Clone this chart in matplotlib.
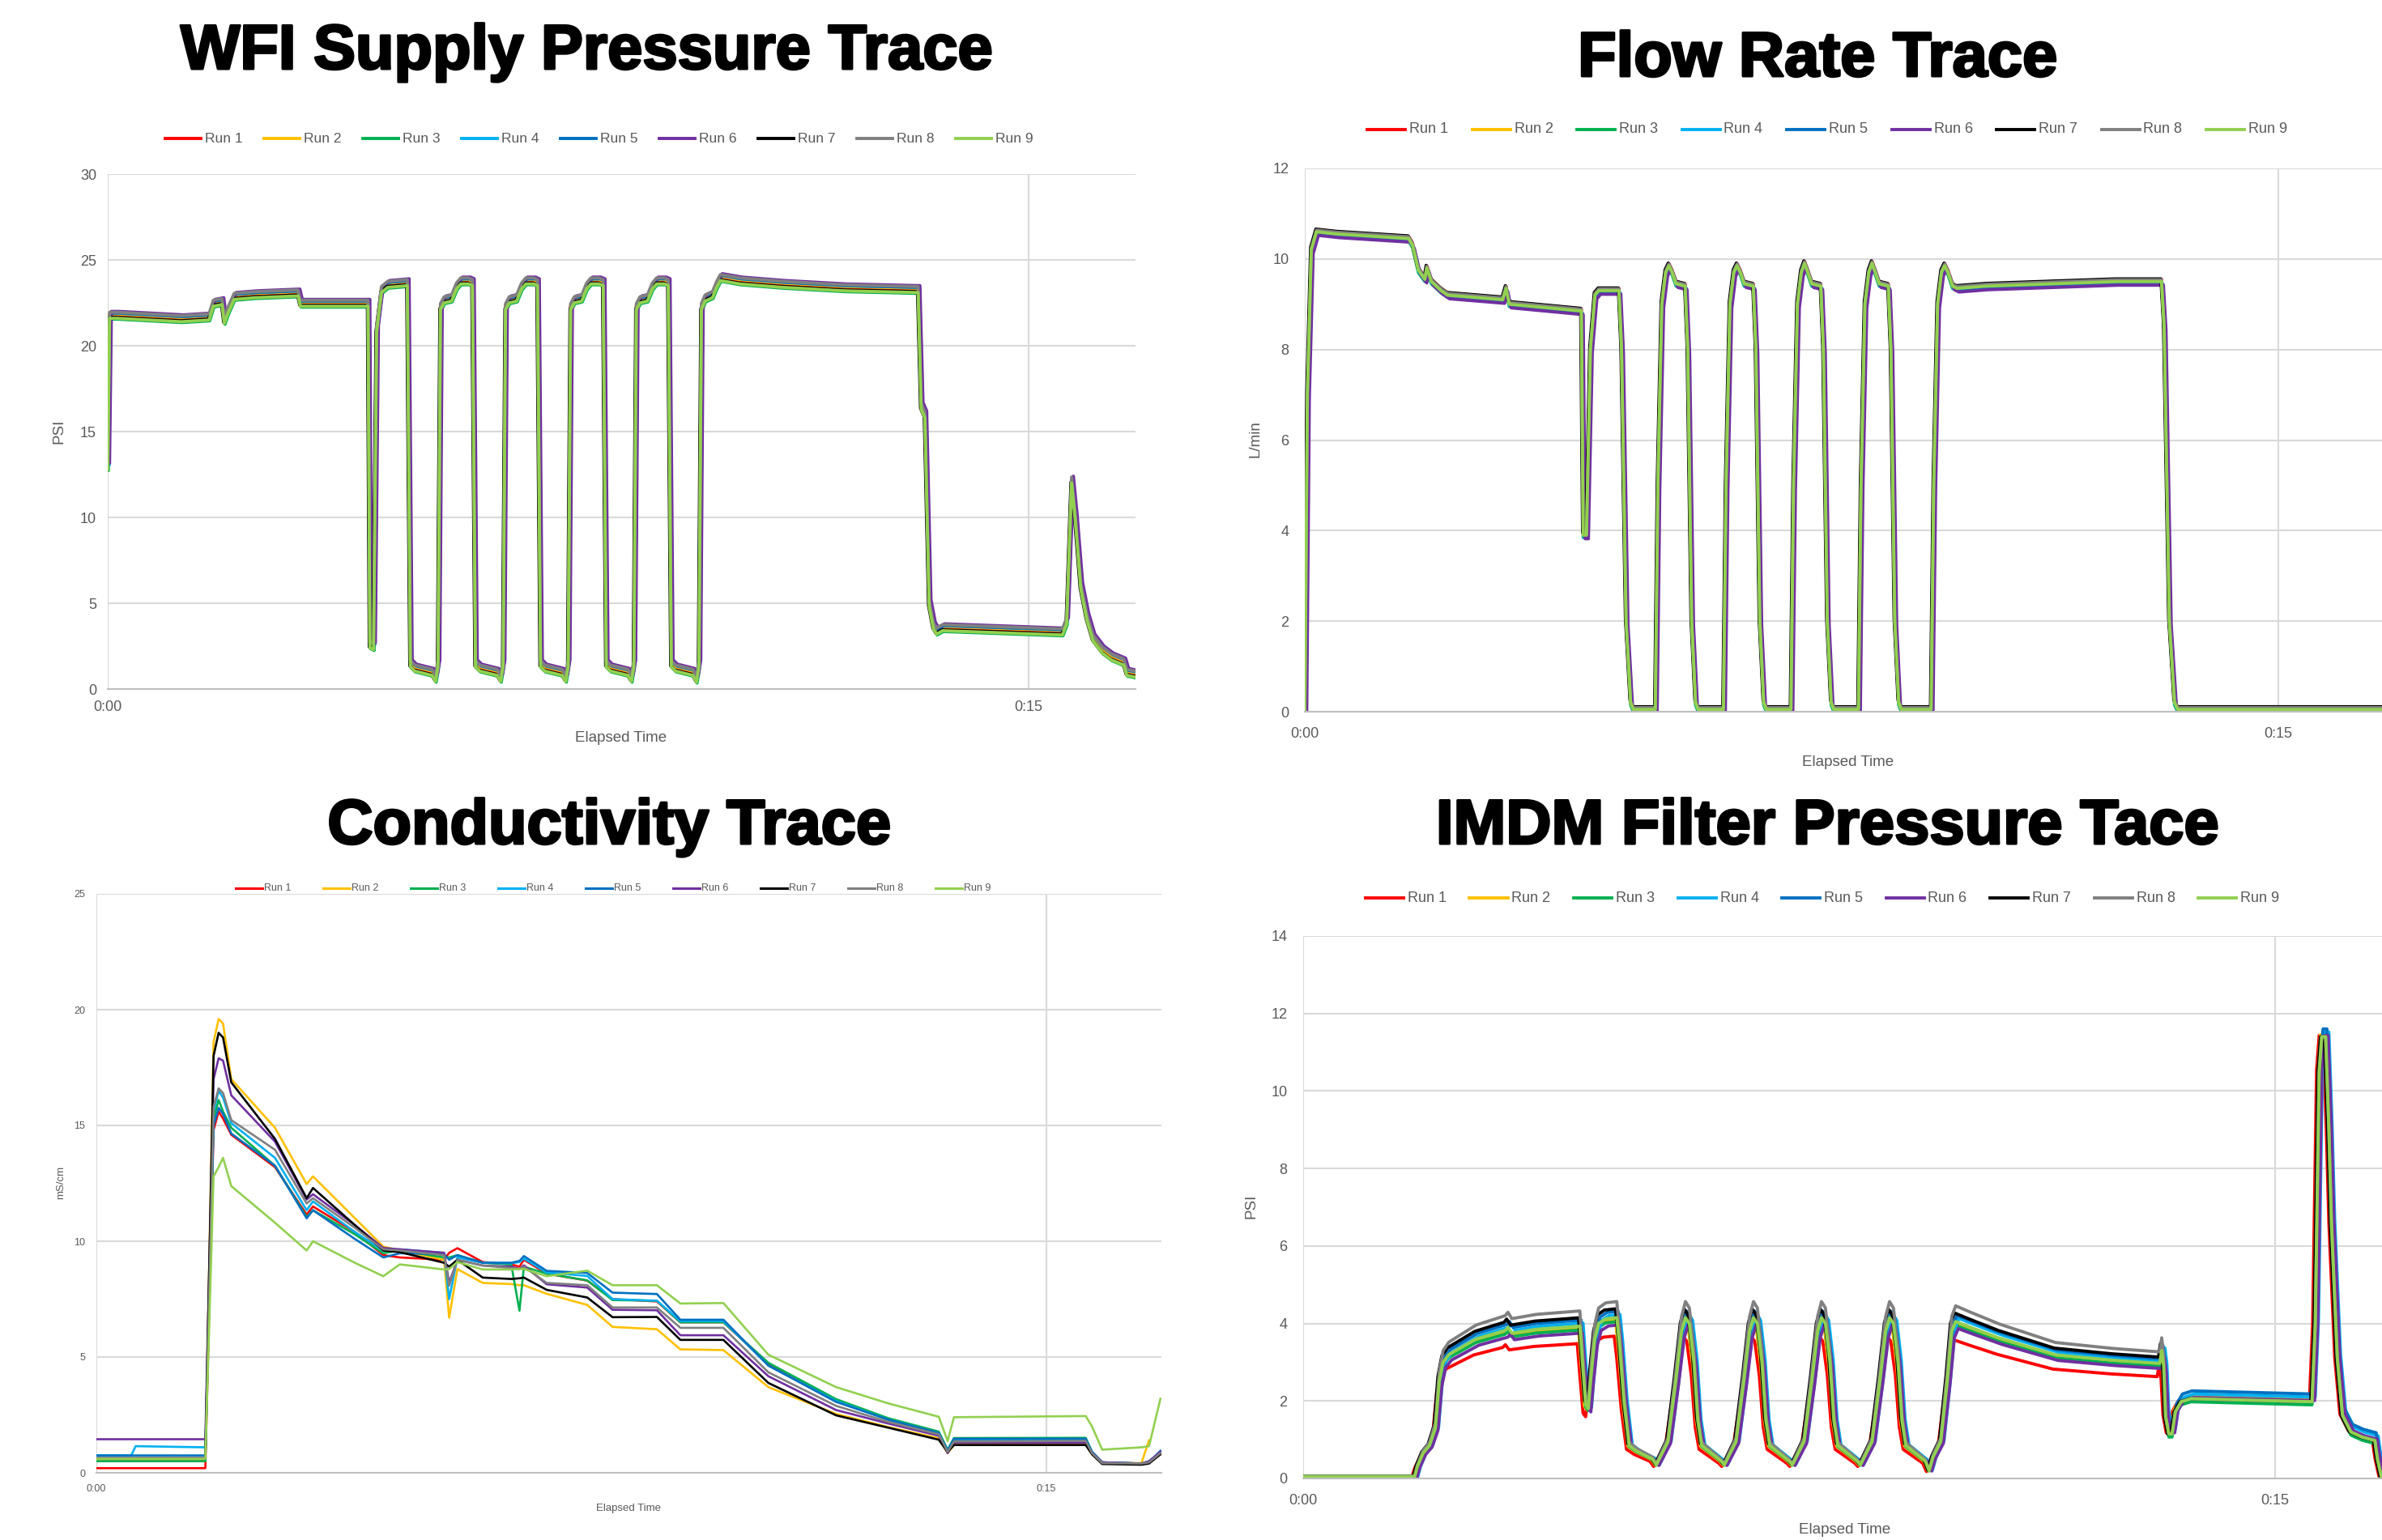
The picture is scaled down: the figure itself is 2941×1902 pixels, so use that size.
import numpy as np
import matplotlib
matplotlib.use('Agg')
import matplotlib.pyplot as plt
import matplotlib.patheffects as pe
from matplotlib.lines import Line2D

# ---- series names / colours (Excel default palette) ----
runs = ['Run 1', 'Run 2', 'Run 3', 'Run 4', 'Run 5', 'Run 6', 'Run 7', 'Run 8', 'Run 9']
run_colors = ['#FF0000', '#FFC000', '#00B050', '#00B0F0', '#0070C0',
              '#7030A0', '#000000', '#808080', '#92D050']

# ---- WFI supply pressure (psi), elapsed minutes ----
wfi_time = [0.00, 0.03, 0.15, 1.20, 1.65, 1.72, 1.86, 1.90, 1.96, 2.06, 2.40, 3.10, 3.14, 4.24,
            4.27, 4.33, 4.38, 4.46, 4.56,
            4.88, 4.93, 5.00, 5.28, 5.34, 5.38, 5.42, 5.48, 5.60, 5.68, 5.75, 5.88,
            5.94, 5.99, 6.06, 6.34, 6.40, 6.44, 6.48, 6.54, 6.66, 6.74, 6.81, 6.94,
            7.00, 7.05, 7.12, 7.40, 7.46, 7.50, 7.54, 7.60, 7.72, 7.80, 7.87, 8.00,
            8.07, 8.12, 8.19, 8.47, 8.53, 8.57, 8.61, 8.67, 8.79, 8.87, 8.94, 9.07,
            9.13, 9.18, 9.25, 9.53, 9.59, 9.63, 9.67, 9.73, 9.85, 9.92, 9.98, 10.30,
            11.00, 12.00, 13.20, 13.25, 13.31, 13.38, 13.45, 13.50, 13.60, 15.55, 15.62,
            15.70, 15.76, 15.85, 15.95, 16.05, 16.20, 16.35, 16.55, 16.60, 16.73]
wfi_psi = [13.0, 21.8, 21.8, 21.6, 21.7, 22.5, 22.6, 21.5, 22.1, 22.9, 23.0, 23.1, 22.5, 22.5,
           2.6, 2.5, 21.0, 23.3, 23.6,
           23.7, 1.5, 1.25, 1.0, 0.65, 1.5, 22.3, 22.7, 22.8, 23.5, 23.8, 23.8,
           23.7, 1.5, 1.25, 1.0, 0.65, 1.5, 22.3, 22.7, 22.8, 23.5, 23.8, 23.8,
           23.7, 1.5, 1.25, 1.0, 0.65, 1.5, 22.3, 22.7, 22.8, 23.5, 23.8, 23.8,
           23.7, 1.5, 1.25, 1.0, 0.65, 1.5, 22.3, 22.7, 22.8, 23.5, 23.8, 23.8,
           23.7, 1.5, 1.25, 1.0, 0.6, 1.5, 22.3, 22.8, 23.0, 23.6, 24.0, 23.8,
           23.6, 23.4, 23.3, 16.5, 16.0, 5.0, 3.7, 3.4, 3.6, 3.35, 4.0,
           12.2, 10.0, 6.0, 4.2, 3.0, 2.3, 1.9, 1.6, 1.0, 0.9]
wfi_offset = [0.0, 0.05, -0.25, 0.1, 0.1, 0.2, -0.15, 0.15, -0.2]
wfi_shift = [0.0, 0.0, 0.01, 0.02, 0.02, 0.03, -0.01, 0.0, 0.0]

# ---- flow rate (L/min) ----
flow_time = [0.00, 0.04, 0.10, 0.18, 0.50, 1.60, 1.66, 1.75, 1.85, 1.88, 1.95, 2.10, 2.20, 3.05, 3.10, 3.15, 4.26,
             4.29, 4.34, 4.40, 4.47, 4.53, 4.84, 4.88, 4.95, 5.02, 5.06,
             5.40, 5.44, 5.50, 5.56, 5.61, 5.66, 5.72, 5.86, 5.90, 5.96, 6.02, 6.06,
             6.45, 6.49, 6.55, 6.61, 6.66, 6.71, 6.77, 6.91, 6.95, 7.01, 7.07, 7.11,
             7.49, 7.53, 7.59, 7.65, 7.70, 7.75, 7.81, 7.95, 7.99, 8.05, 8.11, 8.15,
             8.53, 8.57, 8.63, 8.69, 8.74, 8.79, 8.85, 8.99, 9.03, 9.09, 9.15, 9.19,
             9.65, 9.69, 9.75, 9.81, 9.86, 9.91, 9.98, 10.05, 10.50, 11.50, 12.50, 13.20,
             13.24, 13.32, 13.40, 13.45, 16.60]
flow_lpm = [0.0, 7.0, 10.2, 10.6, 10.55, 10.45, 10.3, 9.75, 9.55, 9.8, 9.5, 9.3, 9.2, 9.1, 9.35, 9.0, 8.85,
            3.9, 3.9, 8.0, 9.2, 9.3, 9.3, 8.0, 2.0, 0.2, 0.05,
            0.05, 5.0, 9.0, 9.7, 9.85, 9.7, 9.45, 9.4, 8.0, 2.0, 0.2, 0.05,
            0.05, 5.0, 9.0, 9.7, 9.85, 9.7, 9.45, 9.4, 8.0, 2.0, 0.2, 0.05,
            0.05, 5.0, 9.0, 9.7, 9.9, 9.7, 9.45, 9.4, 8.0, 2.0, 0.2, 0.05,
            0.05, 5.0, 9.0, 9.7, 9.9, 9.7, 9.45, 9.4, 8.0, 2.0, 0.2, 0.05,
            0.05, 5.0, 9.0, 9.7, 9.85, 9.7, 9.4, 9.35, 9.4, 9.45, 9.5, 9.5,
            8.5, 2.0, 0.2, 0.05, 0.05]
flow_offset = [0.05, 0.0, -0.05, -0.05, -0.05, -0.08, 0.06, 0.04, 0.0]
flow_shift = [0.0, 0.0, 0.0, 0.01, 0.02, 0.03, -0.01, 0.0, 0.0]

# ---- conductivity (mS/cm), one list per run on a shared time grid ----
cond_time = [0.00, 0.55, 0.62, 1.72, 1.85, 1.93, 2.00, 2.13, 2.82, 3.32,
             3.42, 4.08, 4.53, 4.79, 5.49, 5.57, 5.70, 6.10, 6.55, 6.68,
             6.75, 7.11, 7.75, 8.15, 8.85, 9.22, 9.90, 10.61, 11.68, 12.50,
             13.30, 13.44, 13.54, 15.62, 15.72, 15.88, 16.50, 16.62, 16.80]
cond_r1 = [0.2, 0.2, 0.2, 0.2, 14.8, 15.6, 15.3, 14.6, 13.2, 11.15,
           11.5, 10.4, 9.4, 9.3, 9.2, 9.5, 9.7, 9.1, 9.0, 8.9,
           9.2, 8.6, 8.3, 7.5, 7.4, 6.5, 6.5, 4.7, 3.15, 2.3,
           1.72, 0.95, 1.4, 1.42, 0.9, 0.45, 0.4, 0.45, 0.8]
cond_r2 = [0.5, 0.5, 0.5, 0.5, 18.6, 19.6, 19.4, 17.0, 14.9, 12.47,
           12.8, 11.0, 9.77, 9.6, 9.2, 6.7, 8.8, 8.2, 8.15, 8.1,
           8.1, 7.73, 7.25, 6.3, 6.2, 5.33, 5.3, 3.7, 2.54, 1.98,
           1.49, 0.85, 1.2, 1.23, 0.8, 0.42, 0.42, 1.4, np.nan]
cond_r3 = [0.5, 0.5, 0.5, 0.5, 15.3, 16.1, 15.6, 14.9, 13.26, 11.05,
           11.34, 10.3, 9.48, 9.6, 9.3, 9.3, 9.4, 9.07, 9.0, 7.0,
           8.9, 8.6, 8.31, 7.46, 7.43, 6.5, 6.5, 4.75, 3.18, 2.36,
           1.78, 1.0, 1.5, 1.51, 0.9, 0.45, 0.4, 0.5, 0.9]
cond_r4 = [0.75, 0.75, 1.15, 1.1, 15.6, 16.5, 16.2, 15.1, 13.6, 11.34,
           11.72, 10.4, 9.6, 9.65, 9.5, 7.5, 9.3, 9.07, 9.05, 9.1,
           9.25, 8.65, 8.5, 7.5, 7.43, 6.55, 6.55, 4.63, 3.1, 2.3,
           1.72, 0.95, 1.45, 1.43, 0.9, 0.45, 0.4, 0.45, 0.9]
cond_r5 = [0.75, 0.75, 0.75, 0.75, 15.0, 15.76, 15.5, 14.65, 13.26, 10.99,
           11.34, 10.1, 9.3, 9.48, 9.45, 9.2, 9.4, 9.07, 9.07, 9.15,
           9.36, 8.72, 8.63, 7.78, 7.72, 6.61, 6.61, 4.63, 3.06, 2.3,
           1.72, 0.95, 1.47, 1.47, 0.9, 0.45, 0.4, 0.45, 0.95]
cond_r6 = [1.45, 1.45, 1.45, 1.45, 17.0, 17.9, 17.8, 16.3, 14.3, 11.8,
           12.03, 10.7, 9.71, 9.65, 9.5, 8.2, 9.2, 8.95, 8.9, 8.8,
           8.96, 8.14, 8.0, 7.04, 7.02, 5.94, 5.94, 4.17, 2.71, 2.13,
           1.6, 0.85, 1.3, 1.3, 0.85, 0.45, 0.4, 0.5, 0.9]
cond_r7 = [0.6, 0.6, 0.6, 0.6, 18.0, 19.0, 18.8, 16.86, 14.42, 11.86,
           12.3, 10.7, 9.6, 9.53, 9.07, 8.9, 9.2, 8.43, 8.37, 8.4,
           8.43, 7.9, 7.57, 6.72, 6.73, 5.74, 5.74, 3.88, 2.48, 1.95,
           1.43, 0.9, 1.2, 1.2, 0.8, 0.38, 0.35, 0.4, 0.8]
cond_r8 = [0.65, 0.65, 0.65, 0.65, 15.8, 16.6, 16.4, 15.23, 13.95, 11.63,
           11.86, 10.58, 9.65, 9.6, 9.4, 8.08, 9.2, 8.95, 8.84, 8.8,
           8.9, 8.2, 8.1, 7.14, 7.14, 6.26, 6.26, 4.34, 2.89, 2.2,
           1.66, 0.9, 1.35, 1.38, 0.85, 0.42, 0.4, 0.45, 0.85]
cond_r9 = [0.6, 0.6, 0.6, 0.6, 12.8, 13.2, 13.6, 12.38, 10.8, 9.6,
           10.0, 9.07, 8.49, 9.0, 8.78, 8.8, 9.1, 8.78, 8.78, 8.8,
           8.8, 8.49, 8.73, 8.1, 8.1, 7.31, 7.33, 5.1, 3.7, 3.0,
           2.42, 1.37, 2.4, 2.45, 2.0, 1.0, 1.1, 1.15, 3.2]
cond_runs = [cond_r1, cond_r2, cond_r3, cond_r4, cond_r5, cond_r6, cond_r7, cond_r8, cond_r9]

# ---- IMDM filter pressure (psi) ----
imdm_time = [0.00, 1.72, 1.76, 1.85, 1.95, 2.04, 2.10, 2.16, 2.25, 2.67, 3.12, 3.16, 3.22, 3.60, 4.27,
             4.31, 4.36, 4.40, 4.44, 4.50, 4.56, 4.67, 4.84, 4.88, 4.95, 5.03, 5.15, 5.39, 5.45,
             5.51, 5.63, 5.75, 5.84, 5.90, 5.96, 6.03, 6.09, 6.15, 6.30, 6.45, 6.50,
             6.56, 6.68, 6.80, 6.89, 6.95, 7.01, 7.08, 7.14, 7.20, 7.35, 7.50, 7.55,
             7.61, 7.73, 7.85, 7.94, 8.00, 8.06, 8.13, 8.19, 8.25, 8.40, 8.55, 8.60,
             8.66, 8.78, 8.90, 8.99, 9.05, 9.11, 9.18, 9.24, 9.30, 9.45, 9.60, 9.66,
             9.72, 9.84, 9.94, 10.01, 10.07, 10.30, 10.75, 11.61, 12.50, 13.22, 13.25, 13.28,
             13.31, 13.36, 13.41, 13.46, 13.55, 13.70, 15.57, 15.62, 15.68, 15.72, 15.78, 15.83,
             15.87, 15.96, 16.04, 16.17, 16.34, 16.54, 16.58, 16.64]
imdm_psi = [0.05, 0.05, 0.3, 0.65, 0.85, 1.3, 2.5, 3.0, 3.2, 3.6, 3.82, 3.9, 3.75, 3.85, 3.93,
            3.0, 1.9, 1.8, 2.6, 3.6, 4.0, 4.12, 4.15, 3.5, 2.0, 0.85, 0.7, 0.5, 0.35,
            0.55, 0.95, 2.5, 3.8, 4.15, 4.0, 3.0, 1.5, 0.85, 0.65, 0.45, 0.35,
            0.55, 0.95, 2.5, 3.8, 4.15, 4.0, 3.0, 1.5, 0.85, 0.65, 0.45, 0.35,
            0.55, 0.95, 2.5, 3.8, 4.15, 4.0, 3.0, 1.5, 0.85, 0.65, 0.45, 0.35,
            0.55, 0.95, 2.5, 3.8, 4.15, 4.0, 3.0, 1.5, 0.85, 0.65, 0.45, 0.2,
            0.55, 0.95, 2.5, 3.8, 4.05, 3.9, 3.62, 3.19, 3.05, 2.97, 3.3, 2.9,
            1.6, 1.15, 1.15, 1.72, 1.98, 2.06, 1.98, 4.0, 10.5, 11.4, 11.4, 9.0,
            6.57, 3.1, 1.63, 1.2, 1.07, 0.98, 0.5, 0.05]
imdm_gain = [0.885, 0.985, 0.975, 1.02, 1.04, 0.955, 1.055, 1.10, 1.0]   # filling phase level ratio
imdm_late = [0.03, 0.05, -0.08, 0.12, 0.2, 0.03, 0.0, 0.0, 0.0]         # offset after 13.3 min
imdm_shift = [-0.04, -0.02, 0.0, 0.05, 0.02, 0.04, -0.02, 0.0, 0.0]

# ---- figure layout (pixels of the 2941x1902 canvas) ----
W, H = 2941, 1902
fig = plt.figure(figsize=(W / 100, H / 100), dpi=100)
fig.patch.set_facecolor('white')

label_font = ['Liberation Sans Narrow', 'Liberation Sans', 'DejaVu Sans']
grey_txt = '#595959'


def box(x0, y0, x1, y1):
    return [x0 / W, 1 - y1 / H, (x1 - x0) / W, (y1 - y0) / H]


def style(ax, ymax, ystep, xmax, fs, pad):
    ax.set_xlim(0, xmax)
    ax.set_ylim(0, ymax)
    ax.set_yticks(range(0, ymax + 1, ystep))
    ax.set_xticks([0, 15])
    ax.set_xticklabels(['0:00', '0:15'])
    ax.grid(True, color='#D9D9D9', lw=1.5)
    ax.set_axisbelow(True)
    for s in ['top', 'right', 'left']:
        ax.spines[s].set_visible(False)
    ax.spines['bottom'].set_color('#BFBFBF')
    ax.spines['bottom'].set_linewidth(1.5)
    ax.tick_params(length=0, colors=grey_txt, labelsize=fs, pad=pad)
    for lab in ax.get_xticklabels() + ax.get_yticklabels():
        lab.set_family(label_font)


def title(x, y, s):
    fig.text(x / W, 1 - y / H, s, fontsize=56, fontweight='bold', ha='center',
             va='baseline', family=['Liberation Sans', 'DejaVu Sans'],
             path_effects=[pe.withStroke(linewidth=2.2, foreground='black')])


def axis_text(x, y, s, fs, rot=0):
    fig.text(x / W, 1 - y / H, s, fontsize=fs, color=grey_txt, ha='center', va='center',
             rotation=rot, family=label_font)


def legend(x0, y, step, line_len, text_off, fs, lw):
    for i, name in enumerate(runs):
        x = x0 + i * step
        fig.add_artist(Line2D([x / W, (x + line_len) / W], [1 - y / H, 1 - y / H],
                              color=run_colors[i], lw=lw, transform=fig.transFigure))
        fig.text((x + text_off) / W, 1 - y / H, name, fontsize=fs, color=grey_txt,
                 ha='left', va='center', family=label_font)


# WFI supply pressure
ax1 = fig.add_axes(box(133, 215, 1402, 851))
for i in range(9):
    t = np.array(wfi_time) + wfi_shift[i]
    v = np.clip(np.array(wfi_psi) + wfi_offset[i], 0, None)
    ax1.plot(t, v, color=run_colors[i], lw=2.8)
style(ax1, 30, 5, 15 * (1402 - 133) / (1270 - 133), 13, 10)
title(724, 85, 'WFI Supply Pressure Trace')
legend(204, 171, 122, 44, 49, 12.5, 2.8)
axis_text(73, 533, 'PSI', 13.5, 90)
axis_text(767, 911, 'Elapsed Time', 13.5)

# Flow rate
ax2 = fig.add_axes(box(1611, 208, 2941, 879))
for i in range(9):
    t = np.array(flow_time) + flow_shift[i]
    v = np.clip(np.array(flow_lpm) + flow_offset[i], 0, None)
    ax2.plot(t, v, color=run_colors[i], lw=2.8)
style(ax2, 12, 2, 15 * (2941 - 1611) / (2813 - 1611), 13, 14)
title(2244, 94, 'Flow Rate Trace')
legend(1688, 160, 129.5, 47, 52, 13, 2.8)
axis_text(1550, 542, 'L/min', 13.5, 90)
axis_text(2282, 941, 'Elapsed Time', 13.5)

# Conductivity
ax3 = fig.add_axes(box(119, 1104, 1434, 1819))
for i in range(9):
    ax3.plot(cond_time, cond_runs[i], color=run_colors[i], lw=1.9)
style(ax3, 25, 5, 15 * (1434 - 119) / (1292 - 119), 9, 10)
title(752, 1042, 'Conductivity Trace')
legend(291, 1097, 108, 33, 35, 9, 2.2)
axis_text(75, 1460, 'mS/cm', 9.5, 90)
axis_text(776, 1863, 'Elapsed Time', 9.5)

# IMDM filter pressure
ax4 = fig.add_axes(box(1609, 1156, 2941, 1826))
for i in range(9):
    base = np.array(imdm_psi)
    tt = np.array(imdm_time)
    v = np.where(tt < 13.3, base * imdm_gain[i], base + imdm_late[i])
    ax4.plot(tt + imdm_shift[i], np.clip(v, 0, None), color=run_colors[i], lw=2.8)
style(ax4, 14, 2, 15 * (2941 - 1609) / (2809 - 1609), 13, 14)
title(2256, 1042, 'IMDM Filter Pressure Tace')
legend(1686, 1109, 128.5, 47, 52, 13, 2.8)
axis_text(1545, 1490, 'PSI', 13.5, 90)
axis_text(2278, 1890, 'Elapsed Time', 13.5)

fig.savefig('out.png', dpi=100, facecolor='white')
